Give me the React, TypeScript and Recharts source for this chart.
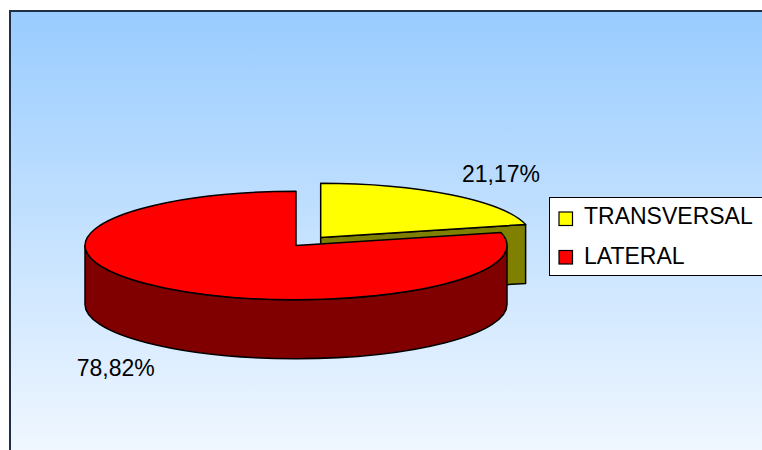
import React from 'react';
import { PieChart, Pie, Legend } from 'recharts';

// ---- data ----
const categories = ['TRANSVERSAL', 'LATERAL'];
const values = [21.17, 78.82];
const topColors = ['#FFFF00', '#FF0000'];
const sideColors = ['#808000', '#800000'];
const explode = [40, 0];

const data = categories.map((name, i) => ({ name, value: values[i] }));

// ---- 3D look ----
const TILT = 0.257;
const DEPTH = 59;
const RAD = Math.PI / 180;
const LABEL_EXTRA = 81;
const LABEL_TILT = 0.276;
const FONT = '"Liberation Sans", Arial, Helvetica, sans-serif';
const STROKE = '#000';
const SW = 1.5;

function geom(p: any) {
  const { cx, cy, outerRadius, startAngle, endAngle, index } = p;
  const hi = Math.max(startAngle, endAngle);
  const lo = Math.min(startAngle, endAngle);
  const mid = (hi + lo) / 2;
  const d = explode[index] || 0;
  const ox = cx + d * Math.cos(mid * RAD);
  const oy = cy - d * TILT * Math.sin(mid * RAD);
  const rx = outerRadius;
  const ry = outerRadius * TILT;
  const pt = (a: number, dz = 0) => [ox + rx * Math.cos(a * RAD), oy - ry * Math.sin(a * RAD) + dz];
  return { ox, oy, rx, ry, hi, lo, mid, pt, r: outerRadius, index };
}

function fmt(n: number) {
  return n[0] !== undefined ? '' : '';
}

const renderSide = (p: any) => {
  const g = geom(p);
  const { ox, oy, rx, ry, hi, lo, pt, index } = g;
  const fill = sideColors[index];
  const parts: React.ReactNode[] = [];
  const cutFace = (a: number, key: string) => {
    const [x1, y1] = pt(a);
    const [x2, y2] = pt(a, DEPTH);
    const dpath = `M${ox},${oy} L${x1},${y1} L${x2},${y2} L${ox},${oy + DEPTH} Z`;
    return <path key={key} d={dpath} fill={fill} stroke={STROKE} strokeWidth={SW} strokeLinejoin="round" />;
  };
  if (hi - lo < 359.9) {
    if (Math.cos(lo * RAD) > 1e-6) parts.push(cutFace(lo, 'lo'));
    if (Math.cos(hi * RAD) < -1e-6) parts.push(cutFace(hi, 'hi'));
  }
  for (let k = -2; k <= 2; k++) {
    const a0 = -180 + 360 * k;
    const a1 = 360 * k;
    const s = Math.max(lo, a0);
    const e = Math.min(hi, a1);
    if (e > s) {
      const [xe, ye] = pt(e);
      const [xs, ys] = pt(s);
      const large = e - s > 180 ? 1 : 0;
      const dpath = `M${xe},${ye} A${rx},${ry} 0 ${large} 1 ${xs},${ys} L${xs},${ys + DEPTH} A${rx},${ry} 0 ${large} 0 ${xe},${ye + DEPTH} Z`;
      parts.push(<path key={`w${k}`} d={dpath} fill={fill} stroke={STROKE} strokeWidth={SW} strokeLinejoin="round" />);
    }
  }
  return <g>{parts}</g>;
};

const renderTop = (p: any) => {
  const g = geom(p);
  const { ox, oy, rx, ry, hi, lo, mid, pt, r, index } = g;
  const [xh, yh] = pt(hi);
  const [xl, yl] = pt(lo);
  const large = hi - lo > 180 ? 1 : 0;
  const dpath = `M${ox},${oy} L${xh},${yh} A${rx},${ry} 0 ${large} 1 ${xl},${yl} Z`;
  const lr = r + LABEL_EXTRA;
  const s = Math.sin(mid * RAD);
  const lx = ox + lr * Math.cos(mid * RAD);
  const ly = oy - lr * LABEL_TILT * s + (s < 0 ? DEPTH : 0);
  const txt = `${values[index].toFixed(2).replace('.', ',')}%`;
  return (
    <g>
      <path d={dpath} fill={topColors[index]} stroke={STROKE} strokeWidth={SW} strokeLinejoin="round" />
      <text x={lx} y={ly + 8} textAnchor="middle" fontFamily={FONT} fontSize={23} fill="#000">
        {txt}
      </text>
    </g>
  );
};

const LegendBox = () => (
  <svg width={230} height={79} style={{ display: 'block' }}>
    <rect x={0.5} y={0.5} width={240} height={78} fill="#fff" stroke="#000" strokeWidth={1} />
    {categories.map((c, i) => (
      <g key={c}>
        <rect x={10} y={15 + i * 38.5} width={13.5} height={13.5} fill={topColors[i]} stroke="#000" strokeWidth={1.2} />
        <text x={35} y={27.3 + i * 39.7} fontFamily={FONT} fontSize={23} fill="#000">
          {c}
        </text>
      </g>
    ))}
  </svg>
);

export default function App() {
  return (
    <div style={{ position: 'absolute', left: 0, top: 0, width: 762, height: 450, overflow: 'hidden', background: '#fff' }}>
      <div
        style={{
          position: 'absolute',
          left: 9,
          top: 10,
          width: 800,
          height: 500,
          borderLeft: '2px solid #1f2f46',
          borderTop: '2px solid #1f2f46',
          background: 'linear-gradient(to bottom, #99CCFF 0px, #F0F7FF 440px)',
        }}
      />
      <div style={{ position: 'absolute', left: 0, top: 0 }}>
        <PieChart width={762} height={450} margin={{ top: 0, right: 0, bottom: 0, left: 0 }}>
          <Pie
            data={data}
            dataKey="value"
            nameKey="name"
            cx={296}
            cy={245.5}
            outerRadius={211}
            startAngle={90}
            endAngle={-270}
            fill="none"
            stroke="none"
            label={renderSide}
            labelLine={false}
            isAnimationActive={false}
          />
          <Pie
            data={data}
            dataKey="value"
            nameKey="name"
            cx={296}
            cy={245.5}
            outerRadius={211}
            startAngle={90}
            endAngle={-270}
            fill="none"
            stroke="none"
            label={renderTop}
            labelLine={false}
            isAnimationActive={false}
          />
          <Legend
            layout="vertical"
            align="right"
            verticalAlign="top"
            wrapperStyle={{ left: 549, top: 197, right: 'auto', width: 230, height: 79 }}
            content={() => <LegendBox />}
          />
        </PieChart>
      </div>
    </div>
  );
}
